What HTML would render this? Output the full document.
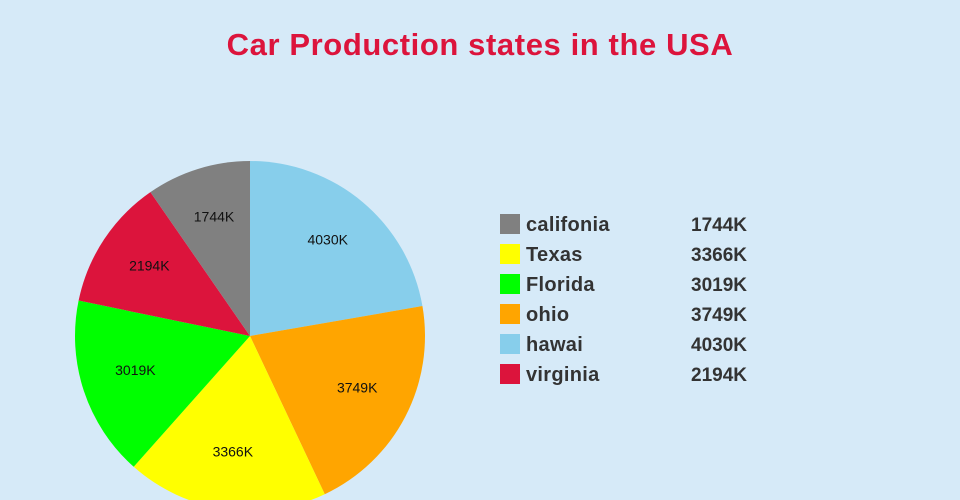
<!DOCTYPE html>
<html>
<head>
<meta charset="utf-8">
<style>
  html, body { margin: 0; padding: 0; }
  body { width: 960px; height: 500px; background: #d6eaf8; overflow: hidden; font-family: "Liberation Sans", sans-serif; }
  svg { display: block; }
</style>
</head>
<body>
<svg id="chart" width="960" height="500">
  <text x="480" y="55" text-anchor="middle" font-size="31" letter-spacing="0.6" font-weight="bold" fill="#dc143c" font-family="Liberation Sans, sans-serif">Car Production states in the USA</text>
  <g id="slices"></g>
  <g id="legend"></g>
</svg>
<script>
const categories = ["califonia", "Texas", "Florida", "ohio", "hawai", "virginia"];
const values = [1744, 3366, 3019, 3749, 4030, 2194];
const colors = ["#808080", "#ffff00", "#00ff00", "#ffa500", "#87ceeb", "#dc143c"];
const drawOrder = ["hawai", "ohio", "Texas", "Florida", "virginia", "califonia"];

const NS = "http://www.w3.org/2000/svg";
const cx = 250, cy = 336, r = 175;
const total = values.reduce((a, b) => a + b, 0);
const slicesG = document.getElementById("slices");
const legendG = document.getElementById("legend");

function pt(angle, rad) {
  return [cx + rad * Math.sin(angle), cy - rad * Math.cos(angle)];
}

let start = 0;
drawOrder.forEach(name => {
  const i = categories.indexOf(name);
  const sweep = values[i] / total * Math.PI * 2;
  const end = start + sweep;
  const [x1, y1] = pt(start, r);
  const [x2, y2] = pt(end, r);
  const large = sweep > Math.PI ? 1 : 0;
  const path = document.createElementNS(NS, "path");
  path.setAttribute("d", `M${cx},${cy} L${x1},${y1} A${r},${r} 0 ${large} 1 ${x2},${y2} Z`);
  path.setAttribute("fill", colors[i]);
  
  
  slicesG.appendChild(path);
  const [lx, ly] = pt(start + sweep / 2, r * 0.69);
  const t = document.createElementNS(NS, "text");
  t.setAttribute("x", lx);
  t.setAttribute("y", ly + 1);
  t.setAttribute("text-anchor", "middle");
  t.setAttribute("font-size", "14");
  t.setAttribute("fill", "#111");
  t.textContent = values[i] + "K";
  
  
  slicesG.appendChild(t);
  start = end;
});

categories.forEach((name, i) => {
  const y = 214 + i * 30;
  const rect = document.createElementNS(NS, "rect");
  rect.setAttribute("x", 500);
  rect.setAttribute("y", y);
  rect.setAttribute("width", 20);
  rect.setAttribute("height", 20);
  rect.setAttribute("fill", colors[i]);
  
  
  legendG.appendChild(rect);
  const t = document.createElementNS(NS, "text");
  t.setAttribute("x", 526);
  t.setAttribute("y", y + 17);
  t.setAttribute("font-size", "20");
  t.setAttribute("letter-spacing", "0.3");
  t.setAttribute("font-weight", "bold");
  t.setAttribute("fill", "#333");
  t.textContent = name;
  
  
  legendG.appendChild(t);
  const v = document.createElementNS(NS, "text");
  v.setAttribute("x", 691);
  v.setAttribute("y", y + 17);
  v.setAttribute("font-size", "19");
  v.setAttribute("font-weight", "bold");
  v.setAttribute("fill", "#333");
  v.textContent = values[i] + "K";
  
  
  legendG.appendChild(v);
});
</script>
</body>
</html>
